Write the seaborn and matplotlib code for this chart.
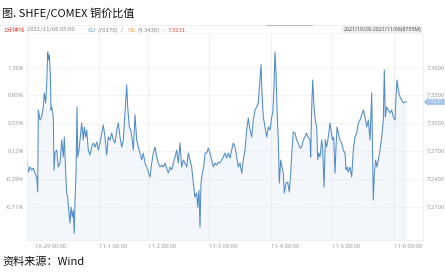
import matplotlib
matplotlib.use("Agg")
import matplotlib.pyplot as plt
import seaborn as sns
import numpy as np
import pandas as pd

# compressed trading-time index (chart axis units) and SHFE/COMEX copper ratio
t = [-0.3, 1.3, 3.0, 4.7, 6.3, 8.0, 9.7, 10.7, 11.3, 13.0, 14.7, 16.3, 17.3, 18.7, 19.7, 20.7,
     21.3, 22.3, 23.3, 24.0, 24.7, 26.3, 27.0, 28.0, 29.7, 31.3, 33.0, 34.7, 36.3, 37.3, 38.7,
     39.7, 40.7, 42.0, 43.0, 44.0, 45.3, 46.3, 47.3, 48.0, 49.0, 50.0, 50.7, 52.0, 53.0, 54.7,
     56.3, 57.3, 58.7, 59.7, 61.3, 63.0, 64.7, 66.3, 68.0, 69.7, 71.3, 73.0, 74.7, 76.3, 78.0,
     79.7, 81.3, 83.0, 84.7, 86.3, 88.0, 89.7, 91.3, 93.0, 94.7, 96.3, 98.0, 99.7, 100.7, 102.3,
     103.7, 105.3, 106.3, 108.0, 109.7, 111.3, 113.0, 114.7, 116.3, 118.0, 119.7, 121.3, 123.0,
     124.7, 126.3, 128.0, 129.7, 131.3, 133.0, 134.7, 136.3, 138.0, 139.7, 141.3, 143.0, 144.7,
     146.3, 148.0, 149.7, 151.3, 153.0, 154.7, 156.3, 158.0, 159.7, 161.3, 163.0, 164.7, 166.3,
     168.0, 169.7, 170.7, 172.0, 173.0, 174.0, 175.3, 176.7, 178.0, 179.7, 181.3, 183.0, 184.7,
     186.3, 188.0, 189.7, 191.3, 193.0, 194.7, 196.3, 198.0, 199.7, 201.3, 203.0, 204.7, 206.3,
     208.0, 209.7, 211.3, 213.0, 214.7, 216.3, 218.0, 219.7, 221.3, 223.0, 224.7, 226.3, 228.0,
     229.7, 231.3, 233.0, 234.0, 235.0, 236.3, 238.0, 239.7, 241.3, 243.0, 244.7, 245.7, 247.0,
     248.0, 249.0, 250.3, 251.3, 252.3, 253.7, 255.0, 256.3, 257.3, 259.0, 260.7, 262.3, 263.7,
     265.0, 266.3, 268.0, 269.7, 271.3, 273.0, 274.7, 276.3, 278.0, 279.3, 281.3, 283.0, 283.7,
     284.7, 285.7, 287.0, 288.3, 289.7, 290.7, 291.7, 293.0, 294.7, 295.7, 297.0, 298.3, 299.7,
     301.3, 303.0, 304.0, 305.3, 306.7, 308.0, 309.0, 310.0, 311.3, 313.0, 314.7, 316.3, 318.0,
     319.0, 320.3, 321.3, 323.0, 324.7, 326.3, 328.0, 329.7, 331.3, 333.0, 334.7, 336.3, 338.0,
     339.7, 341.3, 343.0, 344.7, 345.7, 346.3, 347.3, 348.7, 350.0, 351.3, 353.0, 354.7, 356.3,
     357.3, 358.3, 359.7, 361.3, 363.0, 364.7, 366.3, 368.0, 369.0, 370.0, 371.3, 373.0, 374.7,
     376.3, 378.0, 379.7]
ratio = [7.2657, 7.2473, 7.2527, 7.2495, 7.2516, 7.2462, 7.2419, 7.2257, 7.3143, 7.3035, 7.3067,
         7.3175, 7.3326, 7.3218, 7.3434, 7.3769, 7.3683, 7.3737, 7.3542, 7.3143, 7.3175, 7.3067,
         7.2495, 7.2678, 7.2711, 7.2527, 7.2570, 7.2819, 7.2635, 7.2851, 7.2462, 7.2246, 7.2203,
         7.2030, 7.1922, 7.2095, 7.1987, 7.2063, 7.1814, 7.2171, 7.2462, 7.3175, 7.2635, 7.2711,
         7.2819, 7.3002, 7.2819, 7.2959, 7.2851, 7.2927, 7.2711, 7.2657, 7.2743, 7.2786, 7.2743,
         7.2797, 7.2711, 7.2786, 7.2894, 7.2981, 7.2851, 7.2657, 7.2851, 7.2819, 7.2894, 7.2819,
         7.2786, 7.2927, 7.3002, 7.2851, 7.2743, 7.2819, 7.3110, 7.3413, 7.3175, 7.2959, 7.2927,
         7.2819, 7.2711, 7.3089, 7.2819, 7.2743, 7.2678, 7.2603, 7.2678, 7.2570, 7.2527, 7.2473,
         7.2419, 7.2570, 7.2678, 7.2743, 7.2635, 7.2570, 7.2527, 7.2549, 7.2527, 7.2570, 7.2516,
         7.2462, 7.2527, 7.2495, 7.2570, 7.2635, 7.2711, 7.2570, 7.2786, 7.2527, 7.2603, 7.2570,
         7.2527, 7.2678, 7.2603, 7.2527, 7.2354, 7.2203, 7.2246, 7.2095, 7.2279, 7.1879, 7.2354,
         7.2462, 7.2527, 7.2678, 7.2678, 7.2732, 7.2678, 7.2603, 7.2527, 7.2570, 7.2549, 7.2581,
         7.2570, 7.2603, 7.2635, 7.2678, 7.2624, 7.2678, 7.2624, 7.2711, 7.2786, 7.2743, 7.2635,
         7.2527, 7.2570, 7.2462, 7.2603, 7.2711, 7.2927, 7.3056, 7.2927, 7.2851, 7.3035, 7.3143,
         7.3175, 7.3218, 7.3467, 7.3629, 7.3326, 7.3067, 7.2959, 7.2851, 7.2959, 7.2927, 7.3067,
         7.3110, 7.3391, 7.3769, 7.3542, 7.3067, 7.2819, 7.2354, 7.2603, 7.2527, 7.2462, 7.2246,
         7.2354, 7.2365, 7.2257, 7.2462, 7.2711, 7.2905, 7.2894, 7.2819, 7.2786, 7.2732, 7.2743,
         7.2819, 7.2851, 7.2894, 7.2851, 7.2819, 7.2635, 7.3175, 7.3467, 7.3175, 7.3035, 7.2959,
         7.2603, 7.2678, 7.2635, 7.2819, 7.2711, 7.2311, 7.2819, 7.2743, 7.2851, 7.3002, 7.2927,
         7.2819, 7.2851, 7.2462, 7.2743, 7.2959, 7.2894, 7.2819, 7.2786, 7.2711, 7.2678, 7.2495,
         7.2527, 7.2473, 7.2527, 7.2419, 7.2711, 7.2851, 7.2894, 7.3002, 7.3035, 7.3089, 7.3143,
         7.3067, 7.2959, 7.3035, 7.2819, 7.3326, 7.2635, 7.2171, 7.2462, 7.2603, 7.2527, 7.2603,
         7.2711, 7.2851, 7.3035, 7.3575, 7.3067, 7.3175, 7.3143, 7.3110, 7.3143, 7.3067, 7.3035,
         7.3283, 7.3467, 7.3359, 7.3283, 7.3251, 7.3218, 7.3229, 7.3231]

right_ticks = [7.21, 7.24, 7.27, 7.30, 7.33, 7.36]
right_labels = ["7.2100", "7.2400", "7.2700", "7.3000", "7.3300", "7.3600"]
left_labels = ["-0.71%", "-0.29%", "0.12%", "0.53%", "0.95%", "1.36%"]
x_ticks = [8, 72, 121, 182, 244, 305, 367]
x_labels = ["10-29 00:00", "11-1 06:00", "11-2 00:00", "11-3 00:00",
            "11-4 00:00", "11-5 00:00", "11-6 00:00"]
last_value = "7.3231"

df = pd.DataFrame({"t": t, "ratio": ratio})

sns.set_theme(style="white")
plt.rcParams["font.family"] = ["Noto Sans CJK SC", "DejaVu Sans"]
tick_font = ["Noto Sans", "DejaVu Sans"]
grey = "#9a9a9a"

fig = plt.figure(figsize=(4.45, 2.72), dpi=100)
ax = fig.add_axes([27 / 445, 1 - 240 / 272, 396 / 445, 207 / 272])

line_c = "#3f7fbf"
sns.lineplot(data=df, x="t", y="ratio", ax=ax, color=line_c, linewidth=0.75, alpha=0.9)
ax.fill_between(df["t"], df["ratio"], 7.0, color="#dde9f6", alpha=0.35, linewidth=0)

ax.set_xlim(0, 396)
ax.set_ylim(7.1740, 7.3973)
ax.set_xlabel("")
ax.set_ylabel("")

ax.set_xticks(x_ticks)
ax.set_xticklabels(x_labels)
ax.tick_params(axis="x", length=0, pad=3, labelsize=4.2, colors=grey)
for lab in ax.get_xticklabels():
    lab.set_ha("left")
    lab.set_fontfamily(tick_font)

ax.grid(axis="y", color="#e3e3e3", linestyle=(0, (1.5, 1.5)), linewidth=0.6)
for xv in x_ticks[1:]:
    ax.axvline(xv, color="#eeeeee", linewidth=0.6, zorder=0)
ax.spines["top"].set_visible(False)
for s in ["left", "right", "bottom"]:
    ax.spines[s].set_color("#eeeeee")
    ax.spines[s].set_linewidth(0.6)

ax2 = ax.twinx()
ax2.set_ylim(ax.get_ylim())

# left: percent labels
ax.set_yticks(right_ticks)
ax.set_yticklabels(left_labels)
ax.tick_params(axis="y", left=False, right=False, labelleft=True, labelright=False,
               length=0, pad=2, labelsize=4.2, colors=grey)
for lab in ax.get_yticklabels():
    lab.set_fontfamily(tick_font)

# right: ratio labels
ax2.set_yticks(right_ticks)
ax2.set_yticklabels(right_labels)
ax2.tick_params(axis="y", left=False, right=False, labelleft=False, labelright=True,
                length=0, pad=3, labelsize=4.2, colors=grey)
for lab in ax2.get_yticklabels():
    lab.set_fontfamily(tick_font)
for s in ax2.spines.values():
    s.set_visible(False)
ax2.grid(False)

# last value tag
ax2.annotate(last_value, xy=(1.0, ratio[-1]), xycoords=("axes fraction", "data"),
             xytext=(3, 0), textcoords="offset points", ha="left", va="center",
             fontsize=3.9, color="white", family=tick_font,
             bbox=dict(boxstyle="larrow,pad=0.1", fc="#9dc0e4", ec="none"))

# header
fig.text(2 / 445, 1 - 13 / 272, "图. SHFE/COMEX 铜价比值", fontsize=8, color="#111111",
         va="center", ha="left")
fig.add_artist(plt.Line2D([0, 420 / 445], [1 - 25 / 272, 1 - 25 / 272], color="#eeeeee", lw=0.6))
fig.add_artist(plt.Line2D([266 / 445, 312 / 445], [1 - 25 / 272, 1 - 25 / 272], color="#bbbbbb", lw=0.8))
fig.add_artist(plt.Line2D([27 / 445, 423 / 445], [1 - 33 / 272, 1 - 33 / 272], color="#f2f2f2", lw=0.6))

yh = 1 - 30 / 272
parts = [(3, "1分钟线", "#e8483c"), (27, "2021/11/06 05:00", "#888888"), (88, "CU", "#5b9fd8"),
         (97, "(70170)", "#888888"), (121, "/", "#888888"), (127, "HG", "#f0a03c"),
         (138, "(4.3430)", "#888888"), (164, ":", "#888888"), (168, "7.3231", "#e8483c")]
for xp, s, c in parts:
    fig.text(xp / 445, yh, s, fontsize=4.3, color=c, va="center", ha="left",
             family=["Noto Sans CJK SC", "DejaVu Sans"])

fig.text(421 / 445, 1 - 29.5 / 272, "2021/10/28-2021/11/06(8755M)", fontsize=3.8, color="#555555",
         va="center", ha="right", family=tick_font,
         bbox=dict(boxstyle="square,pad=0.15", fc="#eeeeee", ec="none"))

fig.text(2 / 445, 1 - 262 / 272, "资料来源：Wind", fontsize=8, color="#111111", va="center", ha="left")

fig.savefig("out.png", dpi=100)
